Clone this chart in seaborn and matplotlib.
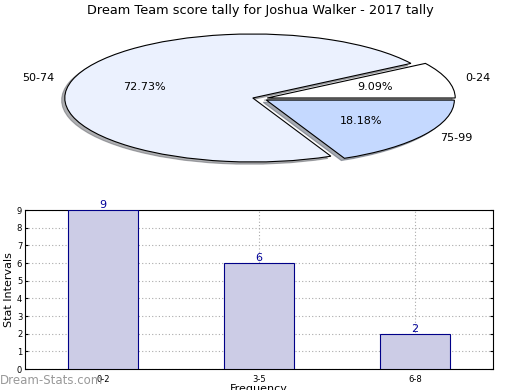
import matplotlib
matplotlib.use("Agg")
import matplotlib.pyplot as plt
import seaborn as sns

# pie data
pie_labels = ["0-24", "50-74", "75-99"]
pie_values = [1, 8, 2]
pie_colors = ["#FFFFFF", "#EBF1FE", "#C5D9FF"]

# bar data
bar_cats = ["0-2", "3-5", "6-8"]
bar_vals = [9, 6, 2]

sns.set_style("white")
plt.rcParams["font.family"] = ["DejaVu Sans"]
plt.rcParams["text.color"] = "black"
plt.rcParams["axes.labelcolor"] = "black"
plt.rcParams["xtick.color"] = "black"
plt.rcParams["ytick.color"] = "black"

fig = plt.figure(figsize=(5.2, 3.9), dpi=100)

# pie on top (stretched, not round)
ax1 = fig.add_axes([0.1023, 0.5664, 0.7954, 0.361])
ax1.pie(pie_values, labels=pie_labels, colors=pie_colors, explode=[0.04, 0.04, 0.04],
        autopct="%1.2f%%", startangle=0,
        shadow={"ox": -0.012, "oy": -0.025, "shade": 0.6},
        wedgeprops={"edgecolor": "black", "linewidth": 0.8},
        textprops={"fontsize": 8, "color": "black"})
ax1.set_aspect("auto")
ax1.set_xlim(-1.1, 1.1)
ax1.set_ylim(-1.1, 1.1)
ax1.axis("off")
fig.text(0.5, 0.974, "Dream Team score tally for Joshua Walker - 2017 tally",
         ha="center", va="center", fontsize=9.3)

# bar chart below
ax2 = fig.add_axes([0.048, 0.0538, 0.9, 0.4077])
sns.barplot(x=bar_cats, y=bar_vals, color="#CCCCE6", edgecolor="#000088",
            linewidth=0.8, saturation=1, width=0.45, ax=ax2, zorder=3)
for i, v in enumerate(bar_vals):
    ax2.text(i, v, str(v), ha="center", va="bottom", fontsize=8, color="#000099", zorder=4)
ax2.set_xlim(-0.5, 2.5)
ax2.set_ylim(0, 9)
ax2.set_yticks(range(10))
ax2.grid(True, linestyle=(0, (1, 2)), color="#AAAAAA", linewidth=0.8, zorder=0)
ax2.set_axisbelow(True)
ax2.tick_params(labelsize=6, direction="in", length=2, right=True, left=True, bottom=False, pad=2)
ax2.tick_params(axis="x", pad=4)
ax2.set_ylabel("Stat Intervals", fontsize=8, labelpad=2)
ax2.set_xlabel("Frequency", fontsize=8, labelpad=0)
for s in ax2.spines.values():
    s.set_color("black")
    s.set_linewidth(0.8)

fig.text(0.0, 0.025, "Dream-Stats.com", fontsize=8.5, color="#999999",
         ha="left", va="center")

fig.savefig("out.png", dpi=100)
